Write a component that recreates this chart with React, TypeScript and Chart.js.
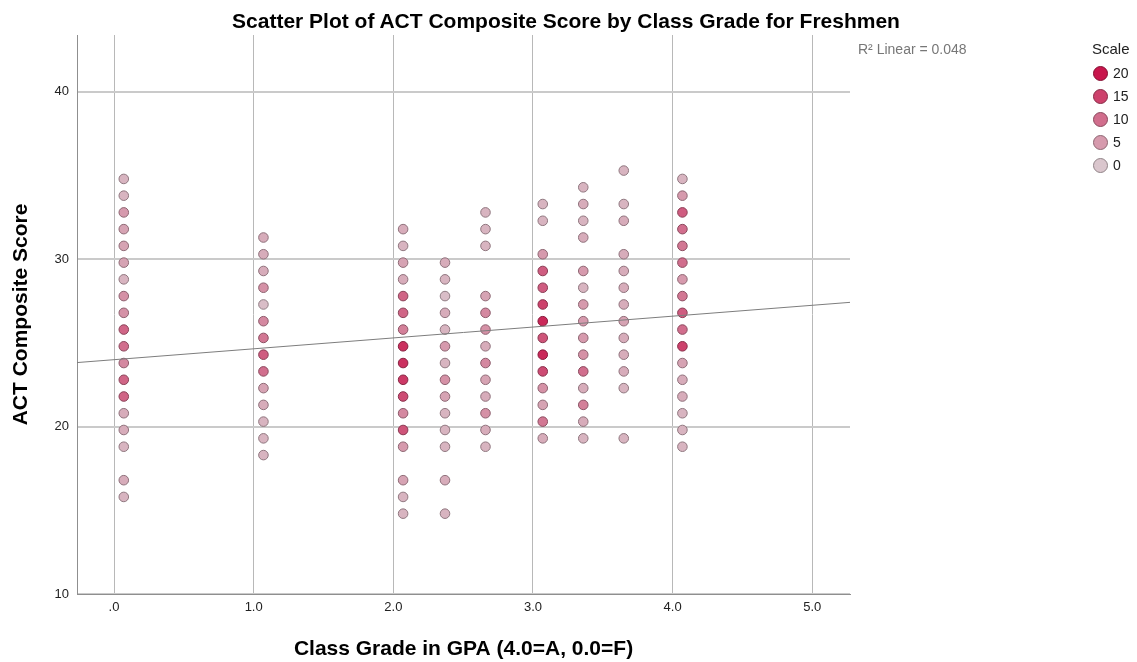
import React, { useEffect, useRef } from "react";
import { Chart, registerables } from "chart.js";

Chart.register(...registerables);

const FONT = "'Liberation Sans', Arial, Helvetica, sans-serif";

// ---- Text ----
const chartTitle = "Scatter Plot of ACT Composite Score by Class Grade for Freshmen";
const xAxisTitle = "Class Grade in GPA (4.0=A, 0.0=F)";
const yAxisTitle = "ACT Composite Score";
const fitLabel = "R\u00B2 Linear = 0.048";
const legendTitle = "Scale";

// ---- Axes ----
const xMin = -0.265;
const xMax = 5.27;
const yMin = 10;
const yMax = 43.4;
const xTickValues = [0, 1, 2, 3, 4, 5];
const xTickLabels = [".0", "1.0", "2.0", "3.0", "4.0", "5.0"];
const yTickValues = [10, 20, 30, 40];
const yTickLabels = ["10", "20", "30", "40"];

// ---- Legend (frequency scale) ----
const legendCounts = [20, 15, 10, 5, 0];
const legendLabels = ["20", "15", "10", "5", "0"];

// ---- Data: GPA columns (as plotted) ----
const gpaPositions = [0.07, 1.07, 2.07, 2.37, 2.66, 3.07, 3.36, 3.65, 4.07];

const scoresCol0 = [34.8, 33.8, 32.8, 31.8, 30.8, 29.8, 28.8, 27.8, 26.8, 25.8, 24.8, 23.8, 22.8, 21.8, 20.8, 19.8, 18.8, 16.8, 15.8];
const countsCol0 = [2, 2, 5, 4, 4, 4, 2, 6, 6, 11, 10, 7, 11, 11, 3, 3, 2, 3, 2];

const scoresCol1 = [31.3, 30.3, 29.3, 28.3, 27.3, 26.3, 25.3, 24.3, 23.3, 22.3, 21.3, 20.3, 19.3, 18.3];
const countsCol1 = [3, 3, 3, 6, 1, 7, 9, 12, 10, 4, 3, 2, 2, 2];

const scoresCol2 = [31.8, 30.8, 29.8, 28.8, 27.8, 26.8, 25.8, 24.8, 23.8, 22.8, 21.8, 20.8, 19.8, 18.8, 16.8, 15.8, 14.8];
const countsCol2 = [3, 2, 4, 3, 11, 11, 8, 17, 17, 16, 14, 7, 13, 5, 4, 2, 2];

const scoresCol3 = [29.8, 28.8, 27.8, 26.8, 25.8, 24.8, 23.8, 22.8, 21.8, 20.8, 19.8, 18.8, 16.8, 14.8];
const countsCol3 = [3, 2, 1, 3, 2, 5, 2, 6, 4, 2, 2, 2, 3, 2];

const scoresCol4 = [32.8, 31.8, 30.8, 27.8, 26.8, 25.8, 24.8, 23.8, 22.8, 21.8, 20.8, 19.8, 18.8];
const countsCol4 = [2, 2, 2, 4, 7, 6, 3, 7, 4, 3, 6, 3, 2];

const scoresCol5 = [33.3, 32.3, 30.3, 29.3, 28.3, 27.3, 26.3, 25.3, 24.3, 23.3, 22.3, 21.3, 20.3, 19.3];
const countsCol5 = [2, 2, 5, 12, 12, 15, 18, 13, 18, 14, 6, 4, 9, 3];

const scoresCol6 = [34.3, 33.3, 32.3, 31.3, 29.3, 28.3, 27.3, 26.3, 25.3, 24.3, 23.3, 22.3, 21.3, 20.3, 19.3];
const countsCol6 = [2, 3, 2, 3, 5, 2, 5, 5, 5, 6, 10, 3, 8, 3, 2];

const scoresCol7 = [35.3, 33.3, 32.3, 30.3, 29.3, 28.3, 27.3, 26.3, 25.3, 24.3, 23.3, 22.3, 19.3];
const countsCol7 = [2, 2, 3, 3, 3, 3, 3, 4, 3, 3, 3, 2, 2];

const scoresCol8 = [34.8, 33.8, 32.8, 31.8, 30.8, 29.8, 28.8, 27.8, 26.8, 25.8, 24.8, 23.8, 22.8, 21.8, 20.8, 19.8, 18.8];
const countsCol8 = [2, 5, 12, 10, 9, 10, 5, 9, 12, 10, 15, 4, 3, 3, 2, 2, 2];

// ---- Linear fit ----
const fitIntercept = 24.0;
const fitSlope = 0.65;

const columnScores = [scoresCol0, scoresCol1, scoresCol2, scoresCol3, scoresCol4, scoresCol5, scoresCol6, scoresCol7, scoresCol8];
const columnCounts = [countsCol0, countsCol1, countsCol2, countsCol3, countsCol4, countsCol5, countsCol6, countsCol7, countsCol8];

const lowColor = [218, 198, 205];
const highColor = [200, 22, 76];

function fillFor(count: number): string {
  const t = Math.max(0, Math.min(1, count / 20));
  const c = lowColor.map((v, i) => Math.round(v + (highColor[i] - v) * t));
  return `rgb(${c[0]},${c[1]},${c[2]})`;
}
function borderFor(count: number): string {
  const t = Math.max(0, Math.min(1, count / 20));
  const c = lowColor.map((v, i) => Math.round((v + (highColor[i] - v) * t) * 0.66));
  return `rgb(${c[0]},${c[1]},${c[2]})`;
}

export default function App() {
  const canvasRef = useRef<HTMLCanvasElement | null>(null);

  useEffect(() => {
    const canvas = canvasRef.current;
    if (!canvas) return;

    const points: { x: number; y: number }[] = [];
    const fills: string[] = [];
    const borders: string[] = [];
    gpaPositions.forEach((gx, ci) => {
      columnScores[ci].forEach((s, k) => {
        const n = columnCounts[ci][k];
        points.push({ x: gx, y: s });
        fills.push(fillFor(n));
        borders.push(borderFor(n));
      });
    });

    const chart = new Chart(canvas, {
      type: "scatter",
      data: {
        datasets: [
          {
            type: "line",
            data: [
              { x: xMin, y: fitIntercept + fitSlope * xMin },
              { x: xMax, y: fitIntercept + fitSlope * xMax },
            ],
            borderColor: "#7d7d7d",
            borderWidth: 1,
            pointRadius: 0,
            showLine: true,
            fill: false,
            order: 0,
          } as any,
          {
            data: points,
            pointRadius: 4.8,
            pointBackgroundColor: fills,
            pointBorderColor: borders,
            pointBorderWidth: 1,
            order: 1,
          },
        ],
      },
      options: {
        responsive: false,
        animation: false,
        layout: { padding: { top: 35, right: 287, bottom: 0, left: 0 } },
        plugins: {
          legend: { display: false },
          tooltip: { enabled: false },
          title: { display: false },
        },
        scales: {
          x: {
            type: "linear",
            min: xMin,
            max: xMax,
            afterBuildTicks: (s: any) => {
              s.ticks = xTickValues.map((v) => ({ value: v }));
            },
            afterFit: (s: any) => {
              s.height = 68;
            },
            ticks: {
              autoSkip: false,
              maxRotation: 0,
              padding: 6,
              color: "#222",
              font: { family: FONT, size: 13 },
              callback: (v: any) => xTickLabels[xTickValues.indexOf(Number(v))],
            },
            grid: { color: "#b8b8b8", lineWidth: 1, drawTicks: false },
            border: { color: "#8f8f8f", width: 1 },
            title: {
              display: true,
              text: xAxisTitle,
              color: "#000",
              font: { family: FONT, size: 21, weight: "bold" },
              padding: { top: 0, bottom: 0 },
            },
          },
          y: {
            type: "linear",
            min: yMin,
            max: yMax,
            afterBuildTicks: (s: any) => {
              s.ticks = yTickValues.map((v) => ({ value: v }));
            },
            afterFit: (s: any) => {
              s.width = 77;
            },
            ticks: {
              autoSkip: false,
              padding: 8,
              color: "#222",
              font: { family: FONT, size: 13 },
              callback: (v: any) => yTickLabels[yTickValues.indexOf(Number(v))],
            },
            grid: { color: "#cacaca", lineWidth: 2, drawTicks: false },
            border: { color: "#8f8f8f", width: 1 },
            title: {
              display: true,
              text: yAxisTitle,
              color: "#000",
              font: { family: FONT, size: 21, weight: "bold" },
              padding: { top: 9, bottom: 0 },
            },
          },
        },
      } as any,
    });

    return () => chart.destroy();
  }, []);

  return (
    <div
      style={{
        position: "absolute",
        left: 0,
        top: 0,
        width: 1137,
        height: 662,
        background: "#fff",
        overflow: "hidden",
        fontFamily: FONT,
      }}
    >
      <canvas ref={canvasRef} width={1137} height={662} style={{ display: "block" }} />
      <div
        style={{
          position: "absolute",
          left: 0,
          top: 8,
          width: 1132,
          textAlign: "center",
          fontSize: 21,
          lineHeight: "25px",
          fontWeight: "bold",
          color: "#000",
          whiteSpace: "nowrap",
        }}
      >
        {chartTitle}
      </div>
      <div
        style={{
          position: "absolute",
          left: 858,
          top: 41,
          fontSize: 14,
          lineHeight: "16px",
          color: "#777",
          whiteSpace: "nowrap",
        }}
      >
        {fitLabel}
      </div>
      <div
        style={{
          position: "absolute",
          left: 1092,
          top: 40,
          fontSize: 15,
          lineHeight: "18px",
          color: "#222",
        }}
      >
        {legendTitle}
      </div>
      {legendCounts.map((n, i) => (
        <div
          key={n}
          style={{
            position: "absolute",
            left: 1093,
            top: 65 + i * 23,
            height: 16,
            display: "flex",
            alignItems: "center",
          }}
        >
          <div
            style={{
              width: 13,
              height: 13,
              borderRadius: "50%",
              background: fillFor(n),
              border: `1px solid ${borderFor(n)}`,
            }}
          />
          <span style={{ marginLeft: 5, fontSize: 14, color: "#222", lineHeight: "16px" }}>
            {legendLabels[i]}
          </span>
        </div>
      ))}
    </div>
  );
}
